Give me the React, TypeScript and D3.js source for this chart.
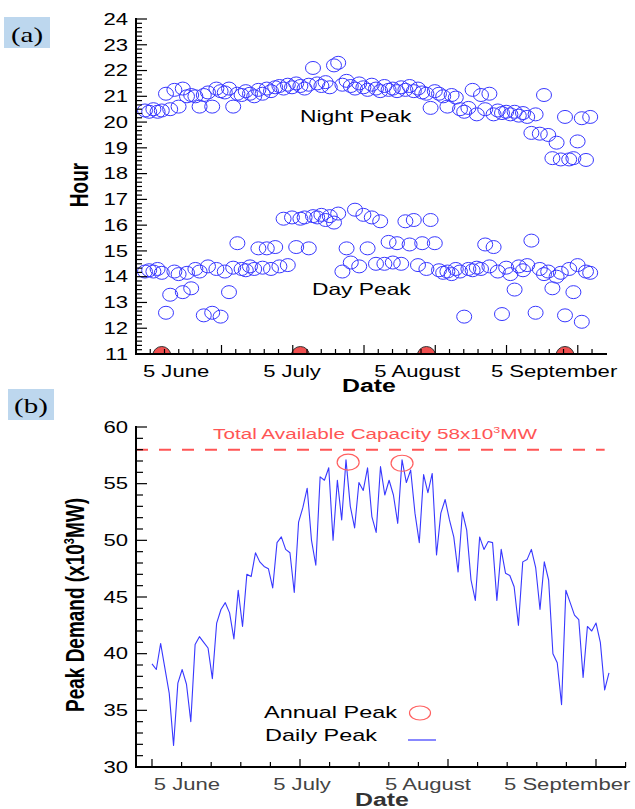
import React from 'react';
import * as d3 from 'd3';

// ---- data (one value per day) ----
const nightPeak = [
  20.45, 20.4, 20.5, 20.4, 20.45, 21.1, 20.5, 21.25, 20.6, 21.3,
  21.0, 21.05, 21.0, 20.6, 21.05, 21.15, 20.6, 21.3, 21.2, 21.15,
  21.3, 20.6, 21.1, 21.05, 21.2, 21.1, 21.0, 21.25, 21.1, 21.3,
  21.2, 21.35, 21.4, 21.3, 21.45, 21.35, 21.5, 21.4, 21.3, 21.45,
  22.1, 21.5, 21.4, 21.55, 21.35, 22.2, 22.3, 21.45, 21.6, 21.4,
  21.3, 21.5, 21.35, 21.25, 21.45, 21.3, 21.2, 21.4, 21.25, 21.3,
  21.2, 21.35, 21.25, 21.4, 21.2, 21.3, 21.15, 21.1, 20.55, 21.2,
  21.1, 21.0, 20.6, 21.05, 20.95, 20.5, 20.4, 20.55, 21.25, 20.3,
  21.05, 20.5, 21.1, 20.3, 20.45, 20.35, 20.4, 20.3, 20.4, 20.25,
  20.35, 20.2, 19.58, 20.3, 19.55, 21.05, 19.5, 18.6, 19.2, 18.55,
  20.2, 18.55, 18.6, 19.25, 20.15, 18.53, 20.2,
];

const dayPeak = [
  14.2, 14.25, 14.2, 14.3, 14.15, 12.6, 13.3, 14.2, 14.1, 13.4,
  14.15, 13.55, 14.3, 14.2, 12.5, 14.4, 12.6, 14.3, 12.45, 14.2,
  13.4, 14.35, 15.3, 14.3, 14.25, 14.4, 14.3, 15.1, 14.35, 15.1,
  14.3, 15.15, 14.4, 16.25, 14.45, 16.3, 15.15, 16.25, 16.3, 15.1,
  16.35, 16.3, 16.4, 16.2, 16.35, 16.1, 16.45, 14.2, 15.1, 14.55,
  16.6, 14.4, 16.4, 15.1, 16.3, 14.5, 16.15, 14.5, 15.35, 14.55,
  15.3, 14.5, 16.15, 15.25, 16.2, 14.45, 15.3, 14.3, 16.2, 15.3,
  14.25, 14.15, 14.2, 14.1, 14.3, 14.2, 12.45, 14.3, 14.25, 14.35,
  14.3, 15.25, 14.4, 15.15, 14.2, 12.55, 14.35, 14.1, 13.5, 14.4,
  14.25, 14.45, 15.4, 12.6, 14.3, 14.1, 14.2, 13.55, 14.0, 14.15,
  12.5, 14.3, 13.4, 14.45, 12.25, 14.2, 14.15,
];

const dailyPeak = [
  39.1, 38.6, 40.9, 38.7, 36.5, 31.9, 37.4, 38.6, 37.3, 34.0,
  40.8, 41.5, 41.0, 40.5, 37.8, 42.7, 43.9, 44.5, 43.6, 41.3,
  45.6, 42.4, 47.0, 46.8, 48.9, 48.1, 47.7, 47.5, 45.8, 49.8,
  50.3, 49.2, 48.9, 45.4, 51.6, 52.9, 54.6, 50.0, 47.8, 55.6,
  55.3, 56.4, 50.0, 55.3, 51.8, 57.1, 53.0, 51.1, 55.1, 54.4,
  56.4, 52.1, 50.7, 56.5, 54.0, 55.3, 54.0, 51.5, 57.1, 55.1,
  56.2, 52.4, 49.8, 55.8, 54.2, 55.9, 48.7, 52.4, 53.6, 51.8,
  50.3, 47.2, 52.5, 50.9, 46.5, 44.7, 50.3, 49.2, 49.9, 49.8,
  44.7, 49.2, 47.1, 46.9, 45.9, 42.5, 48.1, 48.3, 49.2, 47.6,
  43.9, 48.1, 46.5, 40.0, 39.2, 35.5, 45.6, 44.5, 43.4, 43.0,
  37.9, 42.4, 42.0, 42.7, 41.0, 36.8, 38.3,
];

const annualPeakDay = [45.5, 58];
const annualPeakValue = [56.9, 56.8];
const markerDays = [4, 37, 67, 100];
const capacity = 58;

const monthLabels = ['5 June', '5 July', '5 August', '5 September'];
const monthLabelDaysA = [7.4, 35, 64.8, 97.4];
const monthLabelDaysB = [8.1, 34.8, 64, 96.3];
const hourTicks = d3.range(11, 25);
const demandTicks = [30, 35, 40, 45, 50, 55, 60];

// ---- layout ----
const W = 635;
const H = 809;
const SX = 1.38; // the original figure is stretched horizontally
const FONT = '"Liberation Sans", Arial, sans-serif';

const xA = d3.scaleLinear().domain([-2.14, 110]).range([136, 607]);
const yA = d3.scaleLinear().domain([11, 24]).range([354, 19]);
const xB = d3.scaleLinear().domain([-3.71, 109.95]).range([136, 626]);
const yB = d3.scaleLinear().domain([30, 60]).range([767, 427]);

const Txt = ({ x, y, size = 16, weight = 'normal', fill = '#000', anchor = 'start', family = FONT, rotate = false, dy, children }: any) => (
  <text
    transform={`translate(${x},${y}) scale(${SX},1)${rotate ? ' rotate(-90)' : ''}`}
    fontSize={size}
    fontWeight={weight}
    fill={fill}
    textAnchor={anchor}
    fontFamily={family}
    dy={dy}
  >
    {children}
  </text>
);

export default function App() {
  // panel (a) ticks
  const aMinorY = d3.range(0, 13 * 6 + 1).map((k) => ({ v: 11 + k / 6, major: k % 6 === 0 }));
  const aMinorX = d3.range(1, 33).map((k) => ({ d: -2.14 + k * 3.393, major: k >= 6 && (k - 1) % 5 === 0 }));
  // panel (b) ticks
  const bMinorY = d3.range(30, 61).map((v) => ({ v, major: v % 5 === 0 }));
  const bMinorX = d3.range(0, 17).map((k) => ({ d: k * 6.866, major: k % 5 === 0 }));

  const line = d3
    .line<number>()
    .x((_, i) => xB(i))
    .y((d) => yB(d));

  const blue = '#3838ff';

  return (
    <svg width={W} height={H} style={{ position: 'absolute', left: 0, top: 0, background: '#fff' }}>
      <defs>
        <clipPath id="clipA">
          <rect x={136} y={0} width={480} height={yA(11) + 1} />
        </clipPath>
      </defs>

      {/* ---------- panel (a) ---------- */}
      <rect x={4} y={17} width={46} height={31} fill="#bdd7ee" />
      <Txt x={27} y={42} size={21} anchor="middle" family='"Liberation Serif", "Times New Roman", serif'>(a)</Txt>

      {nightPeak.map((v, i) => (
        <ellipse key={'n' + i} cx={xA(i)} cy={yA(v)} rx={7.5} ry={6.5} fill="none" stroke={blue} strokeWidth={1} />
      ))}
      {dayPeak.map((v, i) => (
        <ellipse key={'d' + i} cx={xA(i)} cy={yA(v)} rx={7.5} ry={6.5} fill="none" stroke={blue} strokeWidth={1} />
      ))}

      <g clipPath="url(#clipA)">
        {markerDays.map((d, i) => (
          <circle key={'m' + i} cx={xA(d)} cy={yA(11) + 1.5} r={9} fill="#f05050" stroke="#333" strokeWidth={1} />
        ))}
      </g>

      {/* axes (a) */}
      {aMinorY.map((t, i) => (
        <line key={'ay' + i} x1={136} x2={136 + (t.major ? 11 : 6)} y1={yA(t.v)} y2={yA(t.v)} stroke="#000" strokeWidth={1.2} />
      ))}
      {aMinorX.map((t, i) => (
        <line key={'ax' + i} x1={xA(t.d)} x2={xA(t.d)} y1={yA(11)} y2={yA(11) - (t.major ? 9 : 5)} stroke="#000" strokeWidth={1.2} />
      ))}
      <line x1={136} x2={136} y1={yA(24) - 1} y2={yA(11) + 1} stroke="#000" strokeWidth={2} />
      <line x1={135} x2={607} y1={yA(11)} y2={yA(11)} stroke="#000" strokeWidth={2} />

      {hourTicks.map((h) => (
        <Txt key={'hl' + h} x={128} y={yA(h)} dy="0.36em" anchor="end" size={16}>{h}</Txt>
      ))}
      {monthLabels.map((m, i) => (
        <Txt key={'ma' + i} x={xA(monthLabelDaysA[i])} y={377} anchor="middle" size={16}>{m}</Txt>
      ))}
      <Txt x={369} y={392} anchor="middle" size={18} weight="bold">Date</Txt>
      <Txt x={88} y={185} anchor="middle" size={19} weight="bold" rotate>Hour</Txt>
      <Txt x={300} y={122} size={16.5}>Night Peak</Txt>
      <Txt x={312} y={295} size={16.5}>Day Peak</Txt>

      {/* ---------- panel (b) ---------- */}
      <rect x={8} y={389} width={46} height={31} fill="#bdd7ee" />
      <Txt x={31} y={413} size={21} anchor="middle" family='"Liberation Serif", "Times New Roman", serif'>(b)</Txt>

      <line x1={136} x2={xB(105)} y1={yB(capacity)} y2={yB(capacity)} stroke="#ff5555" strokeWidth={2} strokeDasharray="12,11" />
      <Txt x={375} y={439} anchor="middle" size={15} fill="#ff5555">
        Total Available Capacity 58x10<tspan dy={-6} fontSize={9}>3</tspan><tspan dy={6}>MW</tspan>
      </Txt>

      <path d={line(dailyPeak) || ''} fill="none" stroke={blue} strokeWidth={1.1} strokeLinejoin="round" />

      {annualPeakDay.map((d, i) => (
        <ellipse key={'ap' + i} cx={xB(d)} cy={yB(annualPeakValue[i])} rx={11} ry={8} fill="none" stroke="#ff6060" strokeWidth={1.2} />
      ))}

      {/* legend */}
      <Txt x={264} y={718} size={17}>Annual Peak</Txt>
      <ellipse cx={420} cy={713} rx={10.5} ry={7} fill="none" stroke="#ff6060" strokeWidth={1.2} />
      <Txt x={265} y={741} size={17}>Daily Peak</Txt>
      <line x1={408} x2={436} y1={740} y2={740} stroke={blue} strokeWidth={1.2} />

      {/* axes (b) */}
      {bMinorY.map((t, i) => (
        <line key={'by' + i} x1={136} x2={136 + (t.major ? 11 : 7)} y1={yB(t.v)} y2={yB(t.v)} stroke="#000" strokeWidth={1.2} />
      ))}
      {bMinorX.map((t, i) => (
        <line key={'bx' + i} x1={xB(t.d)} x2={xB(t.d)} y1={yB(30)} y2={yB(30) - (t.major ? 8 : 5)} stroke="#000" strokeWidth={1.2} />
      ))}
      <line x1={136} x2={136} y1={yB(60) - 1} y2={yB(30) + 1} stroke="#000" strokeWidth={2} />
      <line x1={135} x2={626} y1={yB(30)} y2={yB(30)} stroke="#000" strokeWidth={2} />

      {demandTicks.map((v) => (
        <Txt key={'dl' + v} x={128} y={yB(v)} dy="0.36em" anchor="end" size={16}>{v}</Txt>
      ))}
      {monthLabels.map((m, i) => (
        <Txt key={'mb' + i} x={xB(monthLabelDaysB[i])} y={790} anchor="middle" size={16} fill="#444">{m}</Txt>
      ))}
      <Txt x={382} y={806} anchor="middle" size={18} weight="bold" fill="#333">Date</Txt>
      <Txt x={84} y={605} anchor="middle" size={19} weight="bold" rotate>
        Peak Demand (x10<tspan dy={-7} fontSize={11}>3</tspan><tspan dy={7}>MW)</tspan>
      </Txt>
    </svg>
  );
}
